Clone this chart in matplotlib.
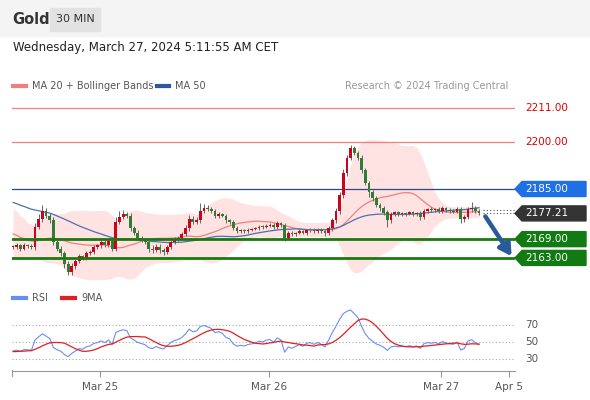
import matplotlib
matplotlib.use("Agg")
import matplotlib.pyplot as plt
import numpy as np
import pandas as pd
from matplotlib.patches import Polygon, Rectangle

W, H = 590, 400
history = [2189, 2188, 2190, 2187, 2189, 2188, 2186, 2189, 2190, 2188,
           2187, 2189, 2191, 2188, 2187, 2186, 2189, 2190, 2188, 2187,
           2186, 2188, 2189, 2187, 2186, 2188, 2187, 2186, 2185, 2184,
           2180, 2176, 2179, 2174, 2177, 2172, 2175, 2170, 2174, 2169,
           2172, 2168, 2171, 2167, 2170, 2166, 2168, 2165, 2167, 2166.5]
closes = [2166.5, 2167, 2166, 2167, 2166.8, 2166.5, 2173, 2175.5, 2178, 2176.5,
          2175, 2168, 2166, 2164.5, 2161, 2158.5, 2160.5, 2162, 2163.5, 2163,
          2164.5, 2165, 2166.5, 2167, 2168, 2167, 2168.5, 2166, 2174.5, 2176,
          2177, 2176.5, 2172.5, 2171, 2169.5, 2168.8, 2168, 2166, 2165.5, 2166.5,
          2165.5, 2165, 2166.5, 2168, 2169, 2169.5, 2170.5, 2172.5, 2175.5, 2174.5,
          2175, 2178, 2179, 2178.5, 2178, 2176.5, 2177, 2176.5, 2175, 2174.5,
          2172.5, 2171.5, 2171.8, 2171.5, 2172, 2172.2, 2172.5, 2173, 2172.8, 2173.3,
          2173.5, 2172.8, 2174, 2173.5, 2169.5, 2171, 2170.5, 2171, 2171.5, 2171,
          2171.8, 2172, 2171.5, 2172, 2171.5, 2170.8, 2172.5, 2175, 2178, 2183,
          2190, 2195, 2198, 2196.5, 2195, 2191, 2187, 2184, 2182, 2180,
          2179, 2177.5, 2175, 2177, 2177.5, 2177, 2177.3, 2177, 2177.5, 2177,
          2177.3, 2176, 2178, 2178.5, 2178.2, 2178.5, 2178, 2178.8, 2178.3, 2178,
          2177.8, 2178.5, 2175.5, 2176, 2178.5, 2179, 2178, 2177.21]
wick_up = [0.6, 0.8, 0.5, 0.7, 0.6, 0.5, 1.2, 1.5, 1.8, 1.0,
           0.8, 1.2, 0.6, 0.8, 0.7, 0.9, 0.8, 0.6, 0.7, 0.5,
           0.8, 0.6, 0.7, 0.5, 0.9, 0.6, 0.7, 1.0, 1.5, 2.0,
           1.2, 0.8, 0.7, 0.6, 0.8, 0.5, 0.6, 0.7, 1.0, 0.8,
           0.9, 0.6, 0.7, 0.6, 0.8, 0.5, 0.7, 0.9, 1.2, 0.8,
           1.0, 2.5, 1.2, 0.8, 0.9, 0.6, 0.7, 0.5, 0.6, 0.5,
           0.5, 0.6, 0.4, 0.5, 0.6, 0.4, 0.5, 0.6, 0.4, 0.5,
           0.6, 0.5, 0.7, 0.5, 0.6, 0.5, 0.5, 0.4, 0.6, 0.4,
           0.5, 0.6, 0.4, 0.5, 0.6, 0.5, 0.7, 0.8, 1.0, 1.2,
           1.5, 1.0, 1.2, 0.8, 0.7, 0.9, 0.8, 0.7, 0.6, 0.8,
           0.6, 0.7, 0.8, 0.6, 0.5, 0.6, 0.5, 0.4, 0.6, 0.5,
           0.4, 0.6, 0.7, 0.5, 0.6, 0.5, 0.6, 0.7, 0.5, 0.6,
           0.5, 0.7, 0.6, 0.8, 0.9, 2.0, 0.7, 0.5]
wick_dn = [0.7, 0.6, 0.8, 0.5, 0.6, 0.7, 0.9, 0.8, 1.0, 0.9,
           0.8, 1.0, 0.8, 1.0, 1.2, 1.0, 0.8, 0.9, 0.6, 0.8,
           0.7, 0.6, 0.8, 0.5, 0.7, 0.6, 0.5, 0.8, 0.9, 0.7,
           0.6, 0.8, 0.9, 0.7, 0.6, 0.8, 0.7, 1.0, 0.8, 0.7,
           0.9, 1.0, 0.7, 0.6, 0.5, 0.7, 0.6, 0.5, 0.8, 0.7,
           0.6, 0.8, 0.7, 0.6, 0.8, 0.7, 0.6, 0.5, 0.7, 0.6,
           0.5, 0.6, 0.5, 0.4, 0.6, 0.5, 0.4, 0.5, 0.6, 0.4,
           0.5, 0.6, 0.5, 0.6, 1.2, 0.6, 0.5, 0.6, 0.4, 0.5,
           0.6, 0.4, 0.5, 0.6, 0.4, 0.7, 0.6, 0.8, 0.7, 0.9,
           1.0, 0.8, 0.9, 0.7, 0.8, 0.9, 0.8, 1.5, 0.7, 0.8,
           0.9, 0.8, 2.0, 0.7, 0.5, 0.6, 0.5, 0.6, 0.4, 0.5,
           0.6, 0.8, 0.5, 0.6, 0.5, 0.4, 0.6, 0.5, 0.6, 0.5,
           0.4, 0.6, 1.5, 1.0, 0.6, 0.7, 0.8, 0.5]
tick_pos = [23.7, 69.8, 116.6, 135.2]
tick_labels = ["Mar 25", "Mar 26", "Mar 27", "Apr 5"]
red_levels = [2211.00, 2200.00]
blue_level = 2185.00
last_price = 2177.21
green_levels = [2169.00, 2163.00]

fig = plt.figure(figsize=(W/100, H/100), dpi=100)
fig.patch.set_facecolor("white")

def fx(x): return x / W
def fy(y): return 1 - y / H

def axes_px(l, t, r, b):
    return fig.add_axes([fx(l), fy(b), (r-l)/W, (b-t)/H])

# header
fig.patches.append(Rectangle((0, fy(36)), 1, 36/H, transform=fig.transFigure, color="#f4f4f4", zorder=0))
fig.patches.append(Rectangle((fx(50), fy(31)), 50/W, 23/H, transform=fig.transFigure, color="#e2e2e2", zorder=1))
fig.text(fx(12), fy(19), "Gold", fontsize=10.5, fontweight="bold", color="#333", va="center")
fig.text(fx(75), fy(19), "30 MIN", fontsize=8, color="#333", va="center", ha="center")
fig.text(fx(13), fy(47), "Wednesday, March 27, 2024 5:11:55 AM CET", fontsize=8.5, color="#222", va="center")
fig.lines.append(plt.Line2D([fx(13), fx(26)], [fy(86)]*2, transform=fig.transFigure, color="#f08080", lw=3))
fig.text(fx(32), fy(86), "MA 20 + Bollinger Bands", fontsize=7, color="#555", va="center")
fig.lines.append(plt.Line2D([fx(157), fx(169)], [fy(86)]*2, transform=fig.transFigure, color="#2a5a9a", lw=3))
fig.text(fx(175), fy(86), "MA 50", fontsize=7, color="#555", va="center")
fig.text(fx(508), fy(86), "Research © 2024 Trading Central", fontsize=7, color="#999", va="center", ha="right")

allc = pd.Series(history + closes)
n0 = len(history)
ma20 = allc.rolling(20).mean().values[n0:]
ma50 = allc.rolling(50).mean().values[n0:]
sd20 = allc.rolling(20).std(ddof=0).values[n0:]
up, lo = ma20 + 2*sd20, ma20 - 2*sd20
d = allc.diff()
g = d.clip(lower=0).ewm(alpha=1/14, adjust=False).mean()
l = (-d.clip(upper=0)).ewm(alpha=1/14, adjust=False).mean()
rsi = (100 - 100/(1 + g/l))
rsi9 = rsi.rolling(9).mean().values[n0:]
rsi = rsi.values[n0:]

idx = np.arange(len(closes))
opens = np.array([history[-1]] + closes[:-1])
c = np.array(closes)
hi = np.maximum(opens, c) + np.array(wick_up)
lw_ = np.minimum(opens, c) - np.array(wick_dn)

ax = axes_px(12, 95, 515, 283)
ax.set_xlim(-0.3, 136.8)
ax.set_ylim(2155.0, 2215.0)
ax.axis("off")
ax.fill_between(idx, lo, up, color="#ffd6d6", alpha=0.7, lw=0, zorder=1)
ax.plot(idx, ma20, color="#f08080", lw=0.9, zorder=2)
ax.plot(idx, ma50, color="#4a72b0", lw=0.9, zorder=2)
for i in idx:
    col = "#d0021b" if c[i] >= opens[i] else "#2e7d32"
    ax.vlines(i, lw_[i], hi[i], color="#666", lw=0.7, zorder=3)
    b0, b1 = min(opens[i], c[i]), max(opens[i], c[i])
    ax.bar(i, max(b1-b0, 0.25), bottom=b0, width=0.75, color=col, zorder=4, lw=0)
for lv in red_levels:
    ax.axhline(lv, color="#f08080", lw=0.9, zorder=2)
    ax.text(1.02, lv, f"{lv:.2f}", transform=ax.get_yaxis_transform(), color="#e00000", fontsize=7.5, va="center")
ax.axhline(blue_level, color="#2a4a8a", lw=0.9, zorder=2)
for lv in green_levels:
    ax.axhline(lv, color="#1a7a10", lw=2, zorder=5)
ax.plot([idx[-1]+1, 136.8], [hi[-1]-0.3]*2, ls=(0, (1, 2)), color="#555", lw=0.8)
ax.plot([idx[-1]+1, 136.8], [last_price]*2, ls=(0, (1, 2)), color="#555", lw=0.8)
ax.annotate("", xy=(136.3, 2162.8), xytext=(128.3, 2177.0),
            arrowprops=dict(arrowstyle="-|>,head_width=0.4,head_length=0.7", color="#2a5a9a", lw=3.2), zorder=6)

def tag(lv, color, text):
    ydisp = ax.transData.transform((0, lv))[1]
    yp = H - ydisp
    pts = [(515, yp), (522, yp-7.5), (586, yp-7.5), (586, yp+7.5), (522, yp+7.5)]
    fig.patches.append(Polygon([(fx(a), fy(b)) for a, b in pts], transform=fig.transFigure, color=color, zorder=5))
    fig.text(fx(525), fy(yp), text, color="white", fontsize=7.5, va="center", zorder=6)

fig.canvas.draw()
tag(blue_level, "#1f6fe5", f"{blue_level:.2f}")
tag(last_price, "#333333", f"{last_price:.2f}")
for lv in green_levels:
    tag(lv, "#127a12", f"{lv:.2f}")

# RSI panel
ax2 = axes_px(12, 290, 515, 368)
ax2.set_xlim(-0.3, 136.8)
ax2.set_ylim(19.4, 111)
ax2.axis("off")
for lv in [70, 50, 30]:
    ax2.axhline(lv, color="#aaa", lw=0.8, ls=(0, (1, 2)))
    ax2.text(1.02, lv, str(lv), transform=ax2.get_yaxis_transform(), color="#555", fontsize=7.5, va="center")
ax2.plot(idx, rsi, color="#6a8ef0", lw=0.8)
ax2.plot(idx, rsi9, color="#e02020", lw=0.9)
fig.lines.append(plt.Line2D([fx(13), fx(26)], [fy(298)]*2, transform=fig.transFigure, color="#6a8ef0", lw=3))
fig.text(fx(32), fy(298), "RSI", fontsize=7, color="#555", va="center")
fig.lines.append(plt.Line2D([fx(62), fx(75)], [fy(298)]*2, transform=fig.transFigure, color="#e02020", lw=3))
fig.text(fx(81), fy(298), "9MA", fontsize=7, color="#555", va="center")

# x axis
ax3 = axes_px(12, 370, 515, 371)
ax3.set_xlim(-0.3, 136.8)
ax3.set_ylim(0, 1)
for s in ["top", "left", "right"]:
    ax3.spines[s].set_visible(False)
ax3.spines["bottom"].set_color("#999")
ax3.set_yticks([])
ax3.set_xticks(tick_pos)
ax3.set_xticklabels(tick_labels, fontsize=7.5, color="#555")
ax3.tick_params(axis="x", length=4, color="#999", pad=4)
fig.lines.append(plt.Line2D([fx(12), fx(12)], [fy(370), fy(376)], transform=fig.transFigure, color="#999", lw=0.8))

fig.savefig("out.png", dpi=100)
